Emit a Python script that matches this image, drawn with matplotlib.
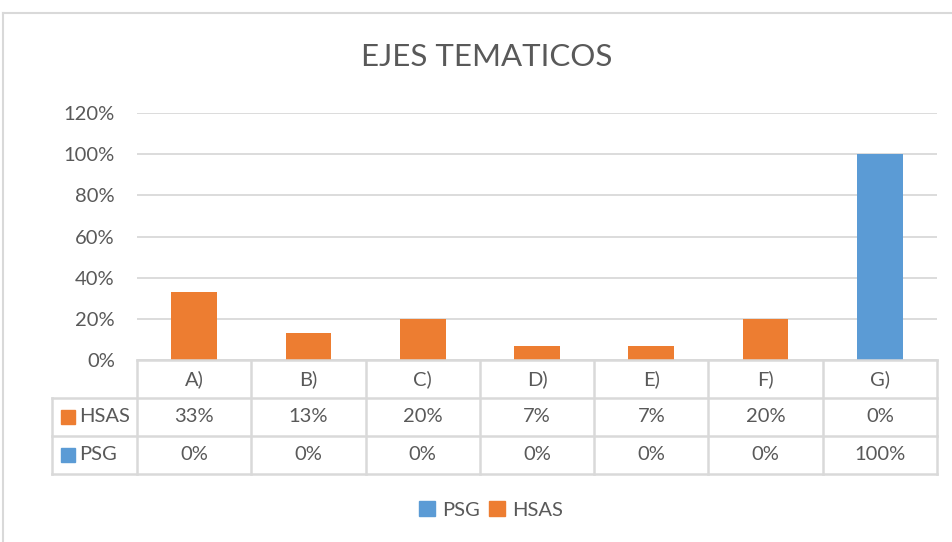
import matplotlib.pyplot as plt
from matplotlib.lines import Line2D
from matplotlib.patches import Patch

# data
categories = ['A)', 'B)', 'C)', 'D)', 'E)', 'F)', 'G)']
hsas = [33, 13, 20, 7, 7, 20, 0]
psg = [0, 0, 0, 0, 0, 0, 100]
yticks = [0, 20, 40, 60, 80, 100, 120]

c_hsas = '#ED7D31'
c_psg = '#5B9BD5'
c_text = '#595959'
c_grid = '#D9D9D9'
fs = 14.5

plt.rcParams['font.family'] = ['Lato', 'DejaVu Sans']

W, H = 953, 542
fig = plt.figure(figsize=(W / 100, H / 100), dpi=100)

def fx(px):
    return px / W

def fy(py):
    return 1 - py / H

# main plot axes
ax = fig.add_axes([fx(137), fy(360), fx(937) - fx(137), fy(113) - fy(360)])
x = list(range(len(categories)))
ax.bar(x, hsas, width=0.4, color=c_hsas, zorder=2)
ax.bar(x, psg, width=0.4, bottom=hsas, color=c_psg, zorder=2)
ax.set_xlim(-0.5, len(categories) - 0.5)
ax.set_ylim(0, 120)
ax.set_yticks(yticks)
ax.set_yticklabels([f'{v}%' for v in yticks], fontsize=fs, color=c_text)
ax.tick_params(axis='y', length=0, pad=16)
ax.set_xticks([])
for s in ax.spines.values():
    s.set_visible(False)
for v in yticks:
    ax.axhline(v, color=c_grid, lw=1.3, zorder=1)

# title
fig.text(fx(487), fy(57), 'EJES TEMATICOS', fontsize=22.5, color=c_text,
         ha='center', va='center')

# data table axes
tax = fig.add_axes([fx(137), fy(474), fx(937) - fx(137), fy(360) - fy(474)])
tax.set_xlim(-0.5, len(categories) - 0.5)
tax.set_ylim(0, 3)
tax.axis('off')
left = -0.5 - 85 / (800 / len(categories))
lkw = dict(color=c_grid, lw=1.8, clip_on=False, solid_capstyle='projecting')

# horizontal lines
tax.plot([-0.5, 6.5], [3, 3], **lkw)
for yy in [2, 1, 0]:
    tax.plot([left, 6.5], [yy, yy], **lkw)
# vertical lines
for i in range(len(categories) + 1):
    tax.plot([i - 0.5, i - 0.5], [0, 3], **lkw)
tax.plot([left, left], [0, 2], **lkw)

# cell texts
for i, c in enumerate(categories):
    tax.text(i, 2.5, c, ha='center', va='center', fontsize=fs, color=c_text)
    tax.text(i, 1.5, f'{hsas[i]}%', ha='center', va='center', fontsize=fs, color=c_text)
    tax.text(i, 0.5, f'{psg[i]}%', ha='center', va='center', fontsize=fs, color=c_text)

# row headers with color keys
cw = 800 / len(categories)
for yy, name, col in [(1.5, 'HSAS', c_hsas), (0.5, 'PSG', c_psg)]:
    tax.add_patch(plt.Rectangle((left + 9 / cw, yy - 0.18), 14 / cw, 0.37,
                                color=col, clip_on=False))
    tax.text(left + 27 / cw, yy, name, ha='left', va='center', fontsize=fs, color=c_text)

# legend
handles = [Patch(color=c_psg, label='PSG'), Patch(color=c_hsas, label='HSAS')]
fig.legend(handles=handles, loc='center', bbox_to_anchor=(fx(491), fy(510)),
           ncol=2, frameon=False, fontsize=fs, handlelength=0.75, handleheight=0.75,
           handletextpad=0.35, columnspacing=0.5, labelcolor=c_text)

# outer chart border
fig.add_artist(Line2D([fx(3), 1], [fy(13), fy(13)], color=c_grid, lw=1.5))
fig.add_artist(Line2D([fx(3), fx(3)], [fy(13), 0], color=c_grid, lw=1.5))

fig.savefig('out.png', dpi=100)
